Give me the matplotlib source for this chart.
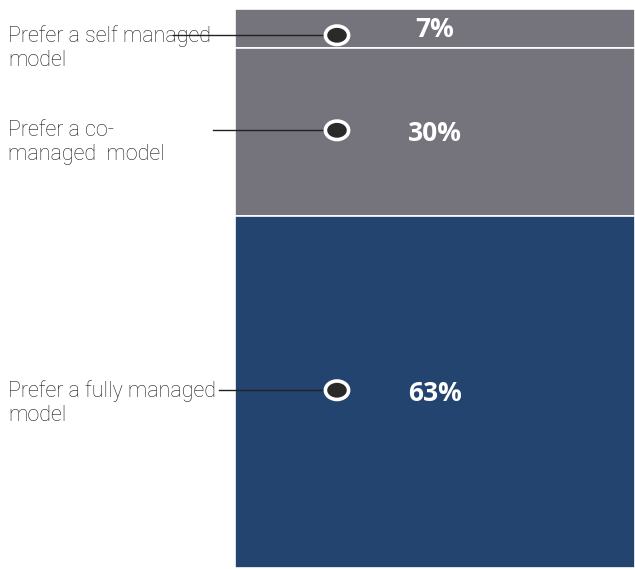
import matplotlib
matplotlib.use("Agg")
import matplotlib.pyplot as plt
from matplotlib.patches import Ellipse
from matplotlib.transforms import blended_transform_factory

categories = ["Prefer a self managed\nmodel", "Prefer a co-\nmanaged  model", "Prefer a fully managed\nmodel"]
values = [7, 30, 63]
value_labels = ["7%", "30%", "63%"]
colors = ["#75737b", "#75737b", "#22446f"]
line_starts = [-0.155, -0.055, -0.04]   # axes-fraction x where connector lines start

W, H = 635, 569
fig = plt.figure(figsize=(W / 100, H / 100), dpi=100)
ax = fig.add_axes([235 / W, 1 / H, 400 / W, 559 / H])

bottom = 0
mids = []
for v, c in zip(values, colors):
    ax.bar(0, v, bottom=bottom, width=1.0, color=c, edgecolor="white", linewidth=1.2)
    mids.append(bottom + v / 2)
    bottom += v

ax.set_xlim(-0.5, 0.5)
ax.set_ylim(100, 0)
ax.axis("off")

tr = blended_transform_factory(ax.transAxes, ax.transData)
circle_x = 0.255
for i, (cat, lab, m) in enumerate(zip(categories, value_labels, mids)):
    cy = m + (1.2 if i == 0 else -0.3)
    ax.plot([line_starts[i], circle_x], [cy, cy], transform=tr, color="#222222",
            lw=1.0, clip_on=False, zorder=3)
    ax.add_patch(Ellipse((circle_x, cy), 0.058, 3.3, transform=tr, facecolor="#2a2a2a",
                         edgecolor="white", linewidth=2.6, clip_on=False, zorder=4))
    ax.text(0.5, m + (0.1 if i == 0 else 0.3), lab, transform=tr, ha="center", va="center",
            color="white", fontsize=19, fontweight="bold",
            family=["Open Sans", "DejaVu Sans"], zorder=5)
    ax.annotate(cat, xy=(-0.5675, cy), xycoords=tr, xytext=(0, 7.5), textcoords="offset points",
                ha="left", va="top", color="#1c1c1c", fontsize=15.5,
                family=["Roboto", "DejaVu Sans"], fontweight="light", linespacing=1.22,
                annotation_clip=False)

fig.savefig("out.png", dpi=100, facecolor="white")
